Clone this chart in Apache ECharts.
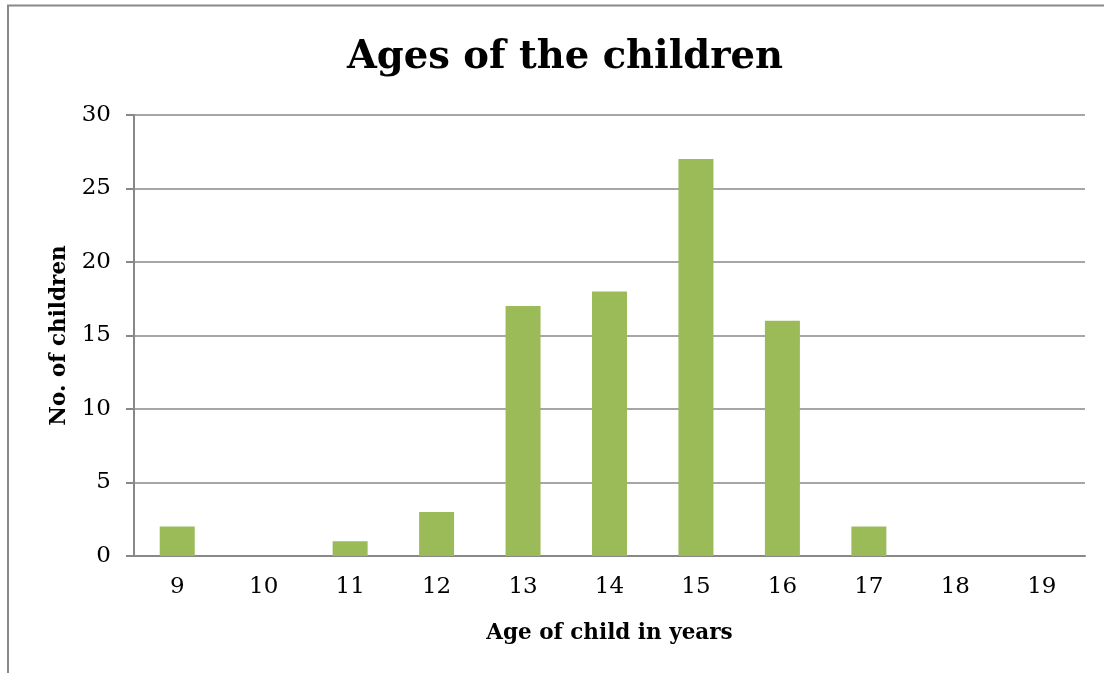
<!DOCTYPE html>
<html><head><meta charset="utf-8">
<script src="https://cdn.jsdelivr.net/npm/echarts@6/dist/echarts.min.js"></script>
<style>html,body{margin:0;padding:0;background:#fff}#c{width:1104px;height:673px}</style>
</head><body><div id="c"></div>
<script>
const ages = ['9','10','11','12','13','14','15','16','17','18','19'];
const counts = [2,0,1,3,17,18,27,16,2,0,0];
const yTicks = {min:0, max:30, interval:5};
const FONT = '"DejaVu Serif", serif';
const chart = echarts.init(document.getElementById('c'));
chart.setOption({
  animation:false,
  backgroundColor:'#fff',
  title:{text:'Ages of the children', top:33, left:560, textAlign:'center',
    textStyle:{fontFamily:FONT, fontSize:38.5, fontWeight:'bold', color:'#000'}},
  graphic:[
    {type:'polyline', shape:{points:[[8,673],[8,5.5],[1104,5.5]]}, style:{stroke:'#888', lineWidth:2, fill:null}, silent:true}
  ],
  grid:{left:134, right:19, top:115, bottom:117},
  xAxis:{type:'category', data:ages,
    axisLine:{lineStyle:{color:'#888', width:2}}, axisTick:{show:false},
    axisLabel:{fontFamily:FONT, fontSize:23, color:'#000', margin:20},
    name:'Age of child in years', nameLocation:'middle', nameGap:66,
    nameTextStyle:{fontFamily:FONT, fontSize:21.5, fontWeight:'bold', color:'#000'}},
  yAxis:{type:'value', min:yTicks.min, max:yTicks.max, interval:yTicks.interval,
    axisLine:{show:true, lineStyle:{color:'#888', width:2}},
    axisTick:{show:true, length:8, lineStyle:{color:'#888', width:2}},
    splitLine:{lineStyle:{color:'#888', width:1.5}},
    axisLabel:{fontFamily:FONT, fontSize:23, color:'#000', margin:23},
    name:'No. of children', nameLocation:'middle', nameGap:63, nameRotate:90,
    nameTextStyle:{fontFamily:FONT, fontSize:21.5, fontWeight:'bold', color:'#000'}},
  series:[{type:'bar', data:counts, barWidth:35, itemStyle:{color:'#9bbb59'}}]
});
</script></body></html>
